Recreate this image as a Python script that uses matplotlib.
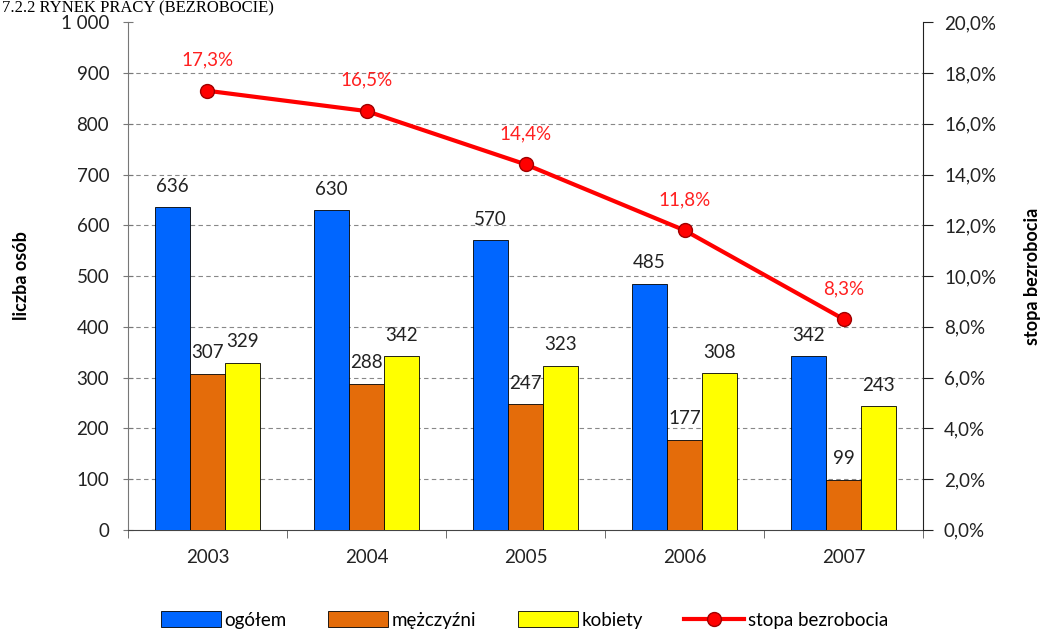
import numpy as np
import matplotlib
matplotlib.use("Agg")
import matplotlib.pyplot as plt
from matplotlib.lines import Line2D
from matplotlib.patches import Patch
from matplotlib.ticker import FuncFormatter, MultipleLocator

# data
years = ["2003", "2004", "2005", "2006", "2007"]
ogolem = [636, 630, 570, 485, 342]
mezczyzni = [307, 288, 247, 177, 99]
kobiety = [329, 342, 323, 308, 243]
stopa = [17.3, 16.5, 14.4, 11.8, 8.3]

plt.rcParams["font.family"] = ["Lato", "DejaVu Sans"]

fig = plt.figure(figsize=(10.49, 6.36), dpi=100)
ax = fig.add_axes([0.122, 0.167, 0.758, 0.798])
ax2 = ax.twinx()

x = np.arange(len(years))
w = 0.22
series = [(ogolem, "#0066FF", "ogółem"),
          (mezczyzni, "#E46C0A", "mężczyźni"),
          (kobiety, "#FFFF00", "kobiety")]
for i, (vals, col, name) in enumerate(series):
    bars = ax.bar(x + (i - 1) * w, vals, w, color=col, edgecolor="black", linewidth=0.6, zorder=3)
    for b, v in zip(bars, vals):
        ax.annotate(str(v), (b.get_x() + b.get_width() / 2, v), xytext=(0, 9),
                    textcoords="offset points", ha="center", va="bottom",
                    fontsize=13.5, color="#222222", zorder=5)

ax.set_xlim(-0.5, len(years) - 0.5)
ax.set_ylim(0, 1000)
ax.yaxis.set_major_locator(MultipleLocator(100))
ax.yaxis.set_major_formatter(FuncFormatter(lambda v, p: "1 000" if v >= 1000 else f"{v:.0f}"))
for v in range(100, 1000, 100):
    ax.axhline(v, color="#888888", linestyle=(0, (4, 3)), linewidth=0.8, zorder=1)

ax.set_xticks(x)
ax.set_xticklabels(years, fontsize=13.5, color="#222222")
ax.tick_params(axis="x", length=0, pad=14)
ax.set_xticks(np.arange(-0.5, len(years)), minor=True)
ax.tick_params(axis="x", which="minor", length=6, color="#555555")
ax.tick_params(axis="y", labelsize=13.5, labelcolor="#222222", length=7, direction="inout",
               color="#777777", pad=10)

for a in (ax, ax2):
    a.spines["top"].set_visible(False)
ax.spines["left"].set_color("#777777")
ax.spines["right"].set_visible(False)
ax.spines["bottom"].set_color("#444444")
ax2.spines["left"].set_visible(False)
ax2.spines["bottom"].set_visible(False)
ax2.spines["right"].set_color("#222222")

ax.set_ylabel("liczba osób", fontsize=13, fontweight="bold", labelpad=22)

ax2.plot(x, stopa, color="#FF0000", linewidth=3, marker="o", markersize=10,
         markerfacecolor="#FF0000", markeredgecolor="#A00000", zorder=4)
for xi, v in zip(x, stopa):
    ax2.annotate(f"{v:.1f}%".replace(".", ","), (xi, v), xytext=(0, 16),
                 textcoords="offset points", ha="center", va="bottom",
                 fontsize=13.5, color="#FF2020")
ax2.set_ylim(0, 20)
ax2.yaxis.set_major_locator(MultipleLocator(2))
ax2.yaxis.set_major_formatter(FuncFormatter(lambda v, p: f"{v:.1f}%".replace(".", ",")))
ax2.tick_params(axis="y", labelsize=13.5, labelcolor="#222222", length=7, color="#222222", pad=8)
ax2.set_ylabel("stopa bezrobocia", fontsize=13, fontweight="bold", labelpad=20)
ax.set_zorder(ax2.get_zorder() - 1)
ax.patch.set_visible(False)

handles = [Patch(facecolor=c, edgecolor="black", linewidth=0.6, label=n) for _, c, n in series]
handles.append(Line2D([], [], color="#FF0000", linewidth=3, marker="o", markersize=10,
                      markerfacecolor="#FF0000", markeredgecolor="#A00000", label="stopa bezrobocia"))
fig.legend(handles=handles, loc="lower center", bbox_to_anchor=(0.5, -0.015), ncol=4,
           frameon=False, fontsize=13.5, handlelength=3.2, handleheight=0.9,
           handletextpad=0.2, columnspacing=2.2)

fig.text(0.002, 0.999, "7.2.2 RYNEK PRACY (BEZROBOCIE)", family="Liberation Serif",
         fontsize=12, ha="left", va="top")

fig.savefig("out.png", dpi=100)
